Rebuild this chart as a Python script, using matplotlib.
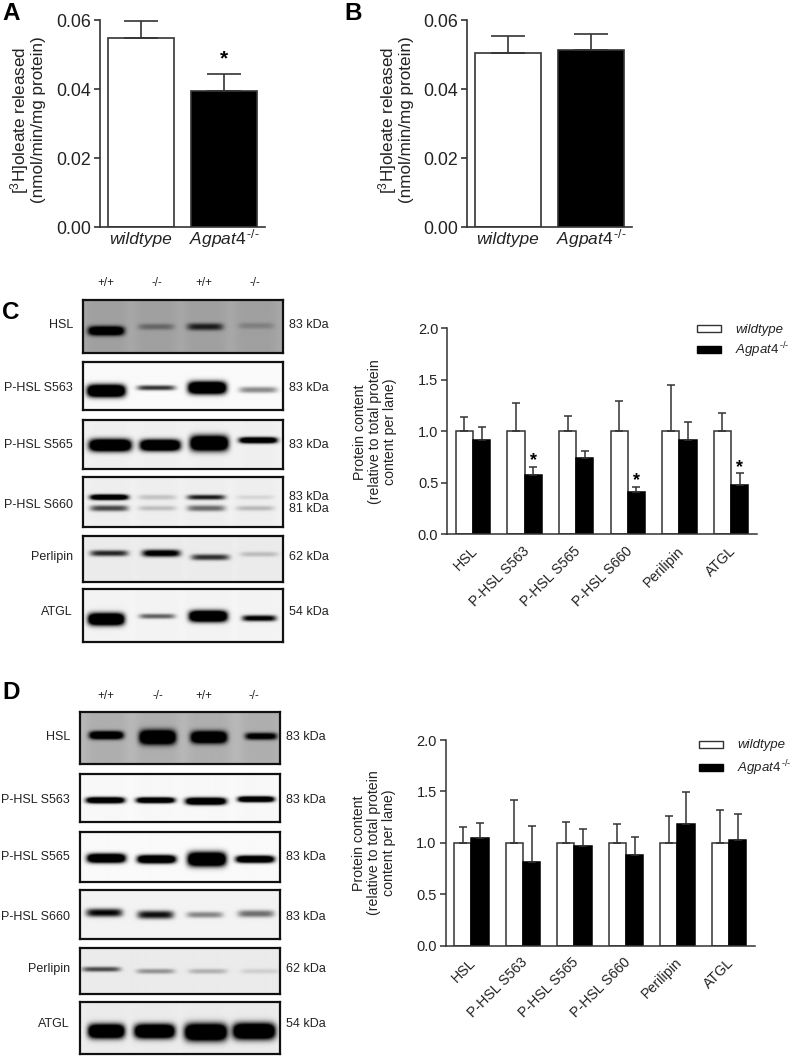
import numpy as np
import matplotlib
matplotlib.use('Agg')
import matplotlib.pyplot as plt
from matplotlib.patches import Rectangle

plt.rcParams['font.family'] = ['Liberation Sans', 'DejaVu Sans']
plt.rcParams['mathtext.fontset'] = 'custom'
plt.rcParams['mathtext.rm'] = 'Liberation Sans'
plt.rcParams['mathtext.it'] = 'Liberation Sans:italic'
plt.rcParams['mathtext.default'] = 'regular'

W, H = 797, 1057
LINE = '#333333'
KO_LABEL = r'$\mathit{Agpat4}^{\,\mathit{\text{-/-}}}$'

# bar values
a_means = [0.055, 0.0395]
a_errs = [0.0048, 0.0048]
b_means = [0.0505, 0.0515]
b_errs = [0.005, 0.0045]

proteins = ['HSL', 'P-HSL S563', 'P-HSL S565', 'P-HSL S660', 'Perilipin', 'ATGL']
c_wt = [1.0, 1.0, 1.0, 1.0, 1.0, 1.0]
c_wt_err = [0.14, 0.27, 0.15, 0.29, 0.45, 0.18]
c_ko = [0.91, 0.57, 0.74, 0.41, 0.91, 0.48]
c_ko_err = [0.13, 0.08, 0.07, 0.05, 0.18, 0.11]
c_stars = [1, 3, 5]

d_wt = [1.0, 1.0, 1.0, 1.0, 1.0, 1.0]
d_wt_err = [0.15, 0.42, 0.20, 0.18, 0.26, 0.32]
d_ko = [1.05, 0.81, 0.97, 0.88, 1.18, 1.03]
d_ko_err = [0.14, 0.35, 0.16, 0.18, 0.31, 0.25]

# band darkness per lane (above 1 = saturated)
c_hsl = [1.6, 0.35, 0.8, 0.2]
c_s563 = [1.9, 0.8, 1.9, 0.45]
c_s565 = [1.9, 1.9, 1.9, 1.6]
c_s660_83 = [1.6, 0.18, 0.9, 0.1]
c_s660_81 = [0.7, 0.2, 0.55, 0.22]
c_perl = [0.85, 1.2, 0.8, 0.2]
c_atgl = [1.9, 0.6, 1.9, 1.1]

d_hsl = [1.6, 1.9, 1.8, 1.2]
d_s563 = [1.7, 1.7, 1.8, 1.7]
d_s565 = [1.8, 1.8, 1.9, 1.7]
d_s660 = [1.0, 0.95, 0.45, 0.55]
d_perl = [0.7, 0.38, 0.25, 0.12]
d_atgl = [1.9, 1.9, 1.9, 1.9]


def px_axes(fig, left, top, right, bottom):
    return fig.add_axes([left / W, 1 - bottom / H, (right - left) / W, (bottom - top) / H])


def ftext(fig, x, y, s, **kw):
    fig.text(x / W, 1 - y / H, s, **kw)


def blot_image(w, h, bg, bands, shade=0.0):
    yy, xx = np.mgrid[0:h * 2, 0:w * 2] / 2.0
    dark = np.zeros_like(xx)
    for power, cx, hw, cy, th in bands:
        dark += power * np.exp(-np.abs((xx - cx) / hw) ** 6) * np.exp(-np.abs((yy - cy) / th) ** 2.4)
        # faint smear round each band
        dark += shade * np.exp(-np.abs((xx - cx) / (hw + 3)) ** 6)
    return bg * (1 - np.clip(dark, 0, 1))


def draw_blot(fig, row, left):
    label, label_y, kda, top, bottom, bg, shade, rows = row
    ax = px_axes(fig, left, top, left + 200, bottom)
    bands = []
    for power, cx, hw, cy, th in rows:
        for i in range(4):
            bands.append((power[i], cx[i], hw[i], cy[i], th[i]))
    w, h = 200, int(bottom - top)
    ax.imshow(blot_image(w, h, bg, bands, shade), cmap='gray', vmin=0, vmax=1,
              extent=[0, w, h, 0], aspect='auto', interpolation='bilinear')
    ax.set_xticks([])
    ax.set_yticks([])
    for s in ax.spines.values():
        s.set_linewidth(1.6)
        s.set_color('#111111')
    ftext(fig, left - 10, label_y, label, ha='right', va='center', fontsize=9, color='#222222')
    for txt, y in kda:
        ftext(fig, left + 206, y, txt, ha='left', va='center', fontsize=9, color='#222222')


def small_bars(fig, box, means, errs, star=None):
    ax = px_axes(fig, *box)
    cols = ['white', 'black']
    ax.bar([0, 1], means, width=0.8, color=cols, edgecolor=LINE, linewidth=1.2)
    ax.errorbar([0, 1], means, yerr=[[0, 0], errs], fmt='none', ecolor=LINE,
                elinewidth=1.2, capsize=12, capthick=1.2)
    ax.set_xlim(-0.494, 1.494)
    ax.set_ylim(0, 0.06)
    ax.set_yticks([0, 0.02, 0.04, 0.06])
    ax.set_yticklabels(['0.00', '0.02', '0.04', '0.06'], fontsize=12.8, color='#222222')
    ax.set_xticks([0, 1])
    ax.set_xticklabels(['wildtype', KO_LABEL], fontsize=12.5, style='italic', color='#222222', va='baseline')
    ax.tick_params(axis='x', length=0, pad=12.5)
    ax.tick_params(axis='y', length=4.5, width=1.2, color=LINE, pad=2)
    for s in ['top', 'right']:
        ax.spines[s].set_visible(False)
    for s in ['left', 'bottom']:
        ax.spines[s].set_linewidth(1.2)
        ax.spines[s].set_color(LINE)
    if star is not None:
        ax.text(star, means[star] + errs[star] + 0.0045, '*', ha='center', va='center',
                fontsize=15, fontweight='bold')
    ax.patch.set_alpha(0)
    return ax


def protein_bars(fig, box, wt, wt_err, ko, ko_err, stars=()):
    ax = px_axes(fig, *box)
    x = np.arange(len(proteins))
    bw = 0.335
    ax.bar(x - bw / 2, wt, width=bw, color='white', edgecolor=LINE, linewidth=1.1)
    ax.bar(x + bw / 2, ko, width=bw, color='black', edgecolor='black', linewidth=1.1)
    zeros = [0] * len(x)
    ax.errorbar(x - bw / 2, wt, yerr=[zeros, wt_err], fmt='none', ecolor=LINE,
                elinewidth=1.1, capsize=3.2, capthick=1.1)
    ax.errorbar(x + bw / 2, ko, yerr=[zeros, ko_err], fmt='none', ecolor=LINE,
                elinewidth=1.1, capsize=3.2, capthick=1.1)
    ax.set_xlim(-0.5, 5.5)
    ax.set_ylim(0, 2)
    ax.set_yticks([0, 0.5, 1, 1.5, 2])
    ax.set_yticklabels(['0.0', '0.5', '1.0', '1.5', '2.0'], fontsize=10.5, color='#222222')
    ax.set_xticks(x - 0.05)
    ax.set_xticklabels(proteins, rotation=45, ha='right', rotation_mode='anchor', fontsize=10.2, color='#222222')
    ax.tick_params(axis='x', length=0, pad=7)
    ax.tick_params(axis='y', length=4.5, width=1.1, color=LINE, pad=2)
    for s in ['top', 'right']:
        ax.spines[s].set_visible(False)
    for s in ['left', 'bottom']:
        ax.spines[s].set_linewidth(1.1)
        ax.spines[s].set_color(LINE)
    for i in stars:
        ax.text(i + bw / 2, ko[i] + ko_err[i] + 0.06, '*', ha='center', va='center',
                fontsize=13, fontweight='bold')
    ax.patch.set_alpha(0)
    return ax


def legend_keys(fig, x, y1, y2, tx):
    fig.add_artist(Rectangle((x / W, 1 - (y1 + 3.5) / H), 24 / W, 7 / H, transform=fig.transFigure,
                             facecolor='white', edgecolor=LINE, linewidth=1))
    fig.add_artist(Rectangle((x / W, 1 - (y2 + 3.5) / H), 24 / W, 7 / H, transform=fig.transFigure,
                             facecolor='black', edgecolor='black', linewidth=1))
    ftext(fig, tx, y1 + 1, 'wildtype', style='italic', fontsize=9.5, va='center', color='#222222')
    ftext(fig, tx, y2 + 1, KO_LABEL, fontsize=9.5, va='center', color='#222222')


fig = plt.figure(figsize=(W / 100, H / 100), dpi=100)

# A, B
small_bars(fig, (100, 20.3, 265, 227), a_means, a_errs, star=1)
small_bars(fig, (466.7, 20.3, 632, 227), b_means, b_errs)
ylab = '$[^{3}$H]oleate released\n(nmol/min/mg protein)'
ftext(fig, 27, 120, ylab, rotation=90, ha='center', va='center', fontsize=12.3, linespacing=1.05, color='#222222')
ftext(fig, 395, 120, ylab, rotation=90, ha='center', va='center', fontsize=12.3, linespacing=1.05, color='#222222')

# C, D charts
protein_bars(fig, (447.3, 328.3, 756.7, 534), c_wt, c_wt_err, c_ko, c_ko_err, c_stars)
protein_bars(fig, (445.7, 740, 754.7, 945.7), d_wt, d_wt_err, d_ko, d_ko_err)
ylab2 = 'Protein content\n(relative to total protein\ncontent per lane)'
ftext(fig, 375, 432, ylab2, rotation=90, ha='center', va='center', fontsize=10.2, linespacing=1.13, color='#222222')
ftext(fig, 374, 843, ylab2, rotation=90, ha='center', va='center', fontsize=10.2, linespacing=1.13, color='#222222')
legend_keys(fig, 697, 329, 349, 735)
legend_keys(fig, 699, 744, 767, 737)

# C blots
hw19 = [19, 19, 19, 19]
blots_c = [
    ('HSL', 325, [('83 kDa', 325)], 300, 353, 0.66, 0.05,
     [(c_hsl, [23, 73, 122, 173], [18, 18, 18, 18], [31, 27, 27, 26], [4.5, 3, 3.5, 3])]),
    ('P-HSL S563', 388, [('83 kDa', 388)], 362, 410, 0.98, 0.0,
     [(c_s563, [23, 73, 124, 175], hw19, [29, 26, 26, 28], [6, 2.5, 6, 3])]),
    ('P-HSL S565', 445, [('83 kDa', 445)], 420, 469, 0.95, 0.01,
     [(c_s565, [27, 77, 126, 175], [21, 20, 19, 19], [25, 25, 23, 20], [6, 5.5, 7.5, 3])]),
    ('P-HSL S660', 505, [('83 kDa', 497), ('81 kDa', 509)], 477, 527, 0.95, 0.01,
     [(c_s660_83, [26, 74, 123, 172], hw19, [20, 20, 20, 20], [2.7, 2.5, 2.5, 2.2]),
      (c_s660_81, [26, 74, 123, 172], hw19, [31, 31, 31, 31], [3, 2.5, 3, 2.5])]),
    ('Perlipin', 557, [('62 kDa', 557)], 536, 582, 0.93, 0.01,
     [(c_perl, [26, 78, 127, 176], hw19, [17, 17, 21, 18], [3, 3.5, 3, 2.5])]),
    ('ATGL', 612, [('54 kDa', 612)], 589, 642, 0.96, 0.01,
     [(c_atgl, [23, 74, 125, 176], [18, 18, 19, 17], [30, 27, 27, 29], [6, 2.5, 5.5, 3])]),
]
for row in blots_c:
    draw_blot(fig, row, 83)

# D blots
blots_d = [
    ('HSL', 737, [('83 kDa', 737)], 712, 764, 0.72, 0.05,
     [(d_hsl, [26, 77, 128, 180], [17, 18, 18, 16], [23, 25, 25, 24], [4, 7, 6, 3.5])]),
    ('P-HSL S563', 800, [('83 kDa', 800)], 774, 822, 0.98, 0.01,
     [(d_s563, [25, 75, 125, 175], [19, 19, 20, 18], [26, 26, 27, 25], [3, 2.8, 3.5, 2.8])]),
    ('P-HSL S565', 857, [('83 kDa', 857)], 832, 882, 0.98, 0.0,
     [(d_s565, [26, 76, 126, 174], hw19, [26, 27, 27, 27], [4.5, 4, 7, 3.5])]),
    ('P-HSL S660', 917, [('83 kDa', 917)], 890, 939, 0.95, 0.0,
     [(d_s660, [24, 75, 124, 175], [18, 18, 18, 18], [23, 25, 25, 24], [4, 4, 3, 3.5])]),
    ('Perlipin', 969, [('62 kDa', 969)], 948, 994, 0.92, 0.0,
     [(d_perl, [21, 75, 127, 179], hw19, [21, 23, 23, 23], [2.5, 2.5, 2.5, 2.5])]),
    ('ATGL', 1024, [('54 kDa', 1024)], 1002, 1054, 0.93, 0.01,
     [(d_atgl, [26, 74, 125, 173], [18, 20, 21, 21], [29, 29, 30, 29], [7, 7, 8.5, 8])]),
]
for row in blots_d:
    draw_blot(fig, row, 80)

for xs, y in [((106, 157, 204, 255), 283), ((106, 158, 204, 254), 696)]:
    for x, s in zip(xs, ['+/+', '-/-', '+/+', '-/-']):
        ftext(fig, x, y, s, ha='center', va='center', fontsize=8.3, color='#222222')

# panel letters
for x, y, s in [(2, 20, 'A'), (344, 20, 'B'), (2, 319, 'C'), (2, 699, 'D')]:
    ftext(fig, x, y, s, ha='left', va='baseline', fontsize=17.5, fontweight='bold', color='black')

fig.savefig('out.png', dpi=100)
